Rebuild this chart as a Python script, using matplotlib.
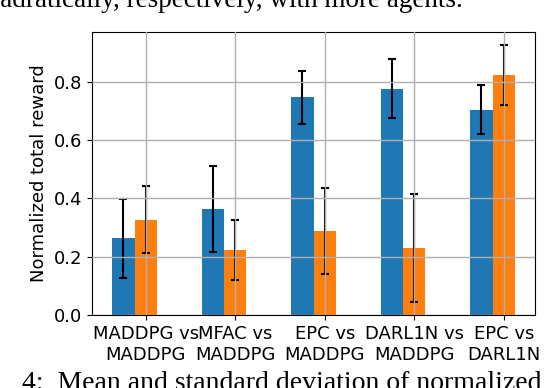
import numpy as np
import matplotlib.pyplot as plt

labels = ['MADDPG vs\nMADDPG', 'MFAC vs\nMADDPG', 'EPC vs\nMADDPG', 'DARL1N vs\nMADDPG', 'EPC vs\nDARL1N']
first_mean = [0.263, 0.363, 0.747, 0.775, 0.703]
first_std = [0.136, 0.147, 0.091, 0.101, 0.084]
second_mean = [0.326, 0.223, 0.288, 0.230, 0.823]
second_std = [0.115, 0.103, 0.148, 0.184, 0.103]

x = np.arange(len(labels))
w = 0.25

fig = plt.figure(figsize=(5.46, 3.88), dpi=100)
ax = fig.add_axes([0.1685, 0.188, 0.8115, 0.7295])

ax.bar(x - w, first_mean, w, yerr=first_std, color='#1f77b4', capsize=3,
       error_kw=dict(elinewidth=1.5, capthick=1.5, ecolor='black'))
ax.bar(x, second_mean, w, yerr=second_std, color='#ff7f0e', capsize=3,
       error_kw=dict(elinewidth=1.5, capthick=1.5, ecolor='black'))

ax.set_xticks(x)
ax.set_xticklabels(labels, fontsize=13)
ax.tick_params(axis='y', labelsize=13)
ax.set_ylabel('Normalized total reward', fontsize=13)
ax.set_ylim(0, 0.97)
ax.set_yticks([0.0, 0.2, 0.4, 0.6, 0.8])
ax.grid(True, color='#b0b0b0', linewidth=1)
ax.set_axisbelow(False)

# bits of the paper text around the figure
fig.text(463 / 546, 1 - 7 / 388, 'quadratically, respectively, with more agents.',
         ha='right', va='baseline', fontsize=19.5, family='Liberation Serif')
fig.text(22 / 546, 1 - 390 / 388, '4:  Mean and standard deviation of normalized',
         ha='left', va='baseline', fontsize=20, family='Liberation Serif')

plt.savefig('out.png', dpi=100)
plt.close()
